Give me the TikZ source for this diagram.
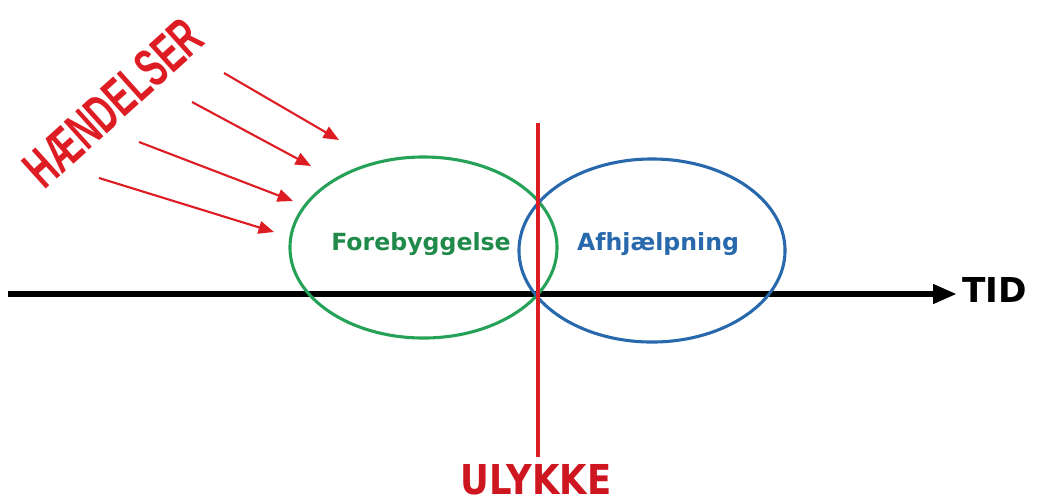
\documentclass[tikz,border=0pt]{standalone}
\usepackage{fontspec}
\usepackage{graphicx}
\usepackage{tikz}
\usetikzlibrary{arrows.meta,shapes.geometric,positioning}

\newfontfamily\verd{DejaVu Sans}
\newfontfamily\narr{Liberation Sans}

\definecolor{hred}{RGB}{222,28,36}
\definecolor{ured}{RGB}{205,22,32}
\definecolor{fgreen}{RGB}{38,162,88}
\definecolor{ablue}{RGB}{40,104,172}

\tikzset{
  evt/.style={draw=hred,line width=1.5pt,-{Triangle[length=11pt,width=9pt]}},
  zone/.style={ellipse,draw,line width=2.2pt,inner sep=0pt},
  zonetxt/.style={font=\verd\bfseries\fontsize{16.8}{18}\selectfont,anchor=base,inner sep=0pt}
}

\begin{document}
\begin{tikzpicture}[x=0.025cm,y=-0.025cm]
		\useasboundingbox (0,0) rectangle (1038,502);
		% time axis
		\coordinate (axL) at (8,294);
		\node[anchor=base west,inner xsep=3.5pt,inner ysep=0pt,font=\verd\bfseries\fontsize{24.4}{26}\selectfont] (tid) at (957,302) {TID};
		\draw[line width=4.5pt,-{Triangle[length=17pt,width=13pt]}] (axL) -- (axL -| tid.west);

		\node[zone,draw=fgreen,minimum width=6.675cm,minimum height=4.525cm] (fore) at (423.5,247.5) {};
		\node[zone,draw=ablue,minimum width=6.65cm,minimum height=4.575cm] (afhj) at (652,250.5) {};
		\node[zonetxt,text=fgreen!85!black] (foretxt) at (421,250) {Forebyggelse};
		\node[zonetxt,text=ablue] (afhjtxt) at (658,250.5) {Afhjælpning};

		% accident
		\coordinate (redtop) at (538,123);
		\node[anchor=base,inner sep=0pt,text=ured,font=\verd\bfseries\fontsize{29.3}{31}\selectfont] (ulykke) at (536,494) {\scalebox{0.86}[1]{ULYKKE}};
		\draw[hred,line width=2.6pt,shorten >=5pt] (redtop) -- (redtop |- ulykke.north);

		% events
		\node[rotate=42,text=hred,inner sep=0pt,font=\narr\bfseries\fontsize{38.7}{40}\selectfont] (hand) at (113,103) {\scalebox{0.62}[1]{HÆNDELSER}};
		\foreach \i/\sx/\sy/\ex/\ey in {1/224/73/339/140,2/192/102/311/166,3/139/142/293/201,4/99/178/274/232}
		{
			\coordinate (s\i) at (\sx,\sy);
			\coordinate (e\i) at (\ex,\ey);
			\draw[evt] (s\i) -- (e\i);
		}
	\end{tikzpicture}
\end{document}
